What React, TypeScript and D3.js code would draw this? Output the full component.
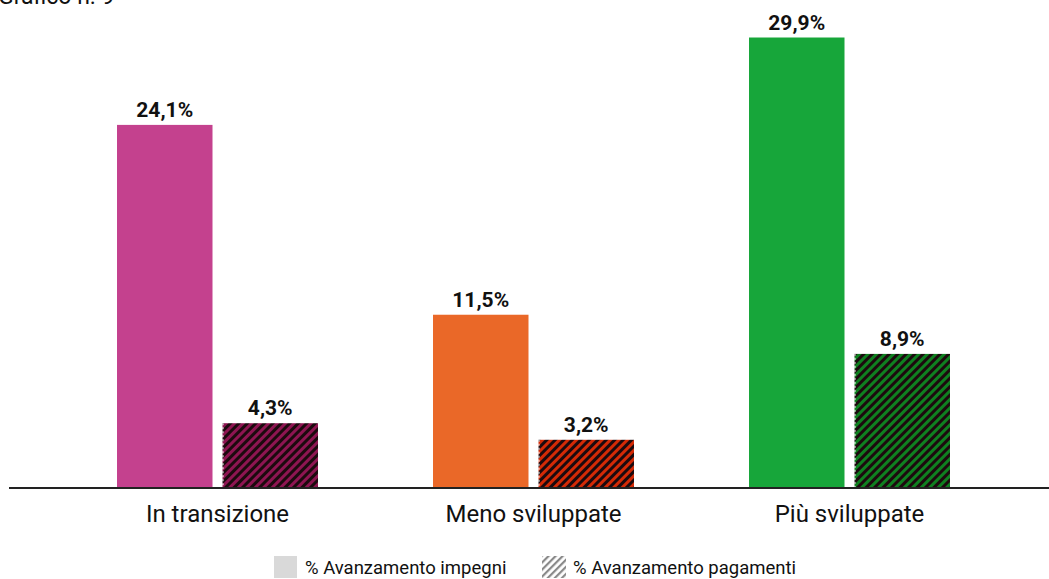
import React from "react";
import * as d3 from "d3";

const categories = ["In transizione", "Meno sviluppate", "Più sviluppate"];
const series = ["% Avanzamento impegni", "% Avanzamento pagamenti"];
const impegni = [24.1, 11.5, 29.9];
const pagamenti = [4.3, 3.2, 8.9];
const solidColors = ["#C4418E", "#EA6828", "#17A63A"];
const stripeColors = ["#8E1552", "#D42A06", "#0F8020"];
const title = "Grafico n. 9";

const W = 1049;
const H = 579;
const baseline = 488;

export default function App() {
  const x0 = d3.scaleBand<string>().domain(categories).range([59.5, 1007.5]).paddingInner(0.364).paddingOuter(0.182);
  const x1 = d3.scaleBand<string>().domain(series).range([0, x0.bandwidth()]).paddingInner(0.0948).paddingOuter(0);
  const y = d3.scaleLinear().domain([0, 30]).range([baseline, 36]);
  const fmt = (v: number) => v.toFixed(1).replace(".", ",") + "%";
  const font = "Roboto, 'Noto Sans', sans-serif";

  return (
    <svg width={W} height={H} style={{ position: "absolute", left: 0, top: 0, background: "#fff" }} fontFamily={font}>
      <defs>
        {categories.map((c, i) => (
          <pattern key={c} id={`hatch${i}`} patternUnits="userSpaceOnUse" width={6} height={6} patternTransform="rotate(45)">
            <rect width={6} height={6} fill={stripeColors[i]} />
            <rect width={3} height={6} fill="#1c0a0e" />
          </pattern>
        ))}
        <pattern id="hatchLegend" patternUnits="userSpaceOnUse" width={5} height={5} patternTransform="rotate(45)">
          <rect width={5} height={5} fill="#fff" />
          <rect width={2.2} height={5} fill="#8a8a8a" />
        </pattern>
      </defs>
      <text x={-2} y={4} fontSize={23} fill="#111">{title}</text>
      {categories.map((c, i) => {
        const gx = x0(c)!;
        const vals = [impegni[i], pagamenti[i]];
        return (
          <g key={c} transform={`translate(${gx},0)`}>
            {series.map((s, j) => {
              const bx = x1(s)!;
              const bw = x1.bandwidth();
              const yy = y(vals[j]);
              return (
                <g key={s}>
                  <rect x={bx} y={yy} width={bw} height={baseline - yy} fill={j === 0 ? solidColors[i] : `url(#hatch${i})`} />
                  {j === 1 && (
                    <line x1={bx + 0.5} x2={bx + 0.5} y1={yy} y2={baseline} stroke="#fff" strokeWidth={1} strokeDasharray="2,2" />
                  )}
                  <text x={bx + bw / 2} y={yy - 8} textAnchor="middle" fontSize={21} fontWeight="bold" fill="#111">
                    {fmt(vals[j])}
                  </text>
                </g>
              );
            })}
            <text x={x0.bandwidth() / 2} y={522} textAnchor="middle" fontSize={24} fill="#111">{c}</text>
          </g>
        );
      })}
      <line x1={9} x2={W} y1={baseline} y2={baseline} stroke="#222" strokeWidth={2} />
      <rect x={274} y={556} width={23} height={22} fill="#d9d9d9" />
      <text x={305} y={574} fontSize={18.5} fill="#111">{series[0]}</text>
      <rect x={542} y={556} width={24} height={22} fill="url(#hatchLegend)" />
      <text x={573} y={574} fontSize={18.5} fill="#111">{series[1]}</text>
    </svg>
  );
}
